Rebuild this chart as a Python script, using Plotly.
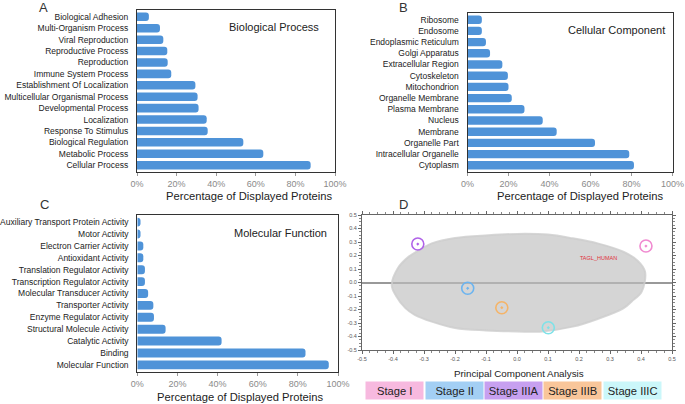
import plotly.graph_objects as go

# ---------------- data ----------------
bp_cats = ["Biological Adhesion", "Multi-Organism Process", "Viral Reproduction",
           "Reproductive Process", "Reproduction", "Immune System Process",
           "Establishment Of Localization", "Multicellular Organismal Process",
           "Developmental Process", "Localization", "Response To Stimulus",
           "Biological Regulation", "Metabolic Process", "Cellular Process"]
bp_vals = [6.0, 11.6, 13.3, 15.3, 15.5, 17.3, 29.5, 30.6, 31.1, 35.2, 35.7, 53.7, 63.8, 87.7]

cc_cats = ["Ribosome", "Endosome", "Endoplasmic Reticulum", "Golgi Apparatus",
           "Extracellular Region", "Cytoskeleton", "Mitochondrion", "Organelle Membrane",
           "Plasma Membrane", "Nucleus", "Membrane", "Organelle Part",
           "Intracellular Organelle", "Cytoplasm"]
cc_vals = [7.0, 7.0, 9.0, 11.0, 17.0, 19.7, 20.0, 21.6, 27.8, 36.7, 43.5, 62.2, 78.9, 81.2]

mf_cats = ["Auxiliary Transport Protein Activity", "Motor Activity", "Electron Carrier Activity",
           "Antioxidant Activity", "Translation Regulator Activity",
           "Transcription Regulator Activity", "Molecular Transducer Activity",
           "Transporter Activity", "Enzyme Regulator Activity", "Structural Molecule Activity",
           "Catalytic Activity", "Binding", "Molecular Function"]
mf_vals = [1.6, 1.6, 3.0, 3.0, 3.8, 3.8, 5.4, 8.0, 8.3, 14.1, 42.0, 83.8, 95.4]

pct_ticks = [0, 20, 40, 60, 80, 100]
pct_labels = ["0%", "20%", "40%", "60%", "80%", "100%"]

# PCA cloud outline
cloud_x = [-0.404, -0.384, -0.35, -0.30, -0.275, -0.20, -0.093, 0.0, 0.10, 0.18, 0.26,
           0.343, 0.39, 0.413, 0.402, 0.37, 0.343, 0.26, 0.18, 0.074, 0.026, -0.10,
           -0.20, -0.275, -0.33, -0.36, -0.39, -0.404]
cloud_y = [-0.02, 0.107, 0.19, 0.26, 0.29, 0.33, 0.35, 0.36, 0.355, 0.327, 0.29,
           0.228, 0.16, 0.08, -0.068, -0.14, -0.191, -0.27, -0.327, -0.364, -0.364, -0.355,
           -0.337, -0.29, -0.24, -0.19, -0.10, -0.02]

stage_names = ["Stage I", "Stage II", "Stage IIIA", "Stage IIIB", "Stage IIIC"]
stage_box_colors = ["#F7B9DF", "#A3CFF4", "#C7A0F0", "#F9C69A", "#CBF7FA"]
stage_pt_colors = ["#F08AD0", "#6BB4F0", "#B062E8", "#F5B468", "#7EE2E8"]
stage_pc1 = [0.416, -0.159, -0.32, -0.049, 0.101]
stage_pc2 = [0.27, -0.043, 0.285, -0.187, -0.335]

label_x = [0.263]
label_y = [0.174]
label_txt = ["TAGL_HUMAN"]

pca_ticks = [-0.5, -0.4, -0.3, -0.2, -0.1, 0.0, 0.1, 0.2, 0.3, 0.4, 0.5]

# ---------------- figure ----------------
W, H = 685, 404
FONT = "Liberation Sans, Arial, sans-serif"
BAR_COLOR = "#4F93D8"

def px(x):
    return x / W

def py(y):
    return 1 - y / H

fig = go.Figure()

panels = [
    (bp_cats, bp_vals, "x", "y"),
    (cc_cats, cc_vals, "x2", "y2"),
    (mf_cats, mf_vals, "x3", "y3"),
]
for cats, vals, xa, ya in panels:
    fig.add_trace(go.Bar(x=vals, y=cats, orientation="h", xaxis=xa, yaxis=ya,
                         marker=dict(color=BAR_COLOR, cornerradius=3, line=dict(width=0)),
                         showlegend=False, hoverinfo="skip"))

# PCA cloud
fig.add_trace(go.Scatter(x=cloud_x, y=cloud_y, xaxis="x4", yaxis="y4", mode="lines",
                         fill="toself", fillcolor="rgba(190,190,190,0.65)",
                         line=dict(color="rgba(205,205,205,0.8)", width=2, shape="spline"),
                         showlegend=False, hoverinfo="skip"))
fig.add_trace(go.Scatter(x=stage_pc1, y=stage_pc2, xaxis="x4", yaxis="y4", mode="markers",
                         marker=dict(symbol="circle-open-dot", size=12, color=stage_pt_colors,
                                     line=dict(width=1.6, color=stage_pt_colors)),
                         showlegend=False, hoverinfo="skip"))
fig.add_trace(go.Scatter(x=label_x, y=label_y, xaxis="x4", yaxis="y4", mode="text",
                         text=label_txt, textfont=dict(size=5.5, color="#E0303A", family=FONT),
                         showlegend=False, hoverinfo="skip"))

def bar_xaxis(dom, anchor):
    return dict(domain=dom, anchor=anchor, range=[0, 100], tickvals=pct_ticks,
                ticktext=pct_labels, showgrid=False, zeroline=False, showline=True,
                linecolor="#333", linewidth=1, mirror=True, ticks="outside", ticklen=3,
                tickcolor="#999", tickfont=dict(size=9, color="#8a8a8a", family=FONT),
                fixedrange=True)

def bar_yaxis(dom, anchor, n):
    return dict(domain=dom, anchor=anchor, type="category", range=[n - 1 + 0.6, -0.6],
                showgrid=False, zeroline=False, showline=True, linecolor="#333",
                linewidth=1, mirror=True, ticks="", ticklabelstandoff=6,
                tickfont=dict(size=8.5, color="#222", family=FONT), fixedrange=True)

fig.update_layout(
    width=W, height=H, margin=dict(l=0, r=0, t=0, b=0, autoexpand=False),
    paper_bgcolor="white", plot_bgcolor="white",
    bargap=0.25, font=dict(family=FONT),
    xaxis=bar_xaxis([px(137), px(335)], "y"),
    yaxis=bar_yaxis([py(172), py(10)], "x", len(bp_cats)),
    xaxis2=bar_xaxis([px(467.5), px(672.5)], "y2"),
    yaxis2=bar_yaxis([py(172), py(13)], "x2", len(cc_cats)),
    xaxis3=bar_xaxis([px(137.3), px(338)], "y3"),
    yaxis3=bar_yaxis([py(372), py(215)], "x3", len(mf_cats)),
    xaxis4=dict(domain=[px(362), px(672)], anchor="y4", range=[-0.5, 0.5],
                tickvals=pca_ticks, ticktext=[f"{v:.1f}" for v in pca_ticks],
                showgrid=False, zeroline=False, showline=True, linecolor="#666",
                linewidth=1, mirror="ticks", ticks="outside", ticklen=3, tickcolor="#666",
                tickfont=dict(size=5.5, color="#555", family=FONT),
                minor=dict(dtick=0.025, ticks="outside", ticklen=2, tickcolor="#888"),
                fixedrange=True),
    yaxis4=dict(domain=[py(350), py(215)], anchor="x4", range=[-0.5, 0.5],
                tickvals=pca_ticks, ticktext=[f"{v:.1f}" for v in pca_ticks],
                showgrid=False, zeroline=True, zerolinecolor="#999", zerolinewidth=1.6,
                showline=True, linecolor="#666", linewidth=1, mirror="ticks",
                ticks="outside", ticklen=3, tickcolor="#666",
                tickfont=dict(size=5.5, color="#555", family=FONT),
                minor=dict(dtick=0.025, ticks="outside", ticklen=2, tickcolor="#888"),
                fixedrange=True),
)

anns = []
def ann(text, x, y, size, color="#222", **kw):
    anns.append(dict(text=text, x=px(x), y=py(y), xref="paper", yref="paper",
                     showarrow=False, xanchor="center", yanchor="middle",
                     font=dict(size=size, color=color, family=FONT), **kw))

# panel letters
ann("A", 43.5, 7, 13, "#333")
ann("B", 403.5, 7, 13, "#333")
ann("C", 44.5, 204, 13, "#333")
ann("D", 403, 204, 13, "#333")
# panel titles
ann("Biological Process", 274, 27, 11)
ann("Cellular Component", 616, 30, 11)
ann("Molecular Function", 280, 233, 11)
# axis titles
ann("Percentage of Displayed Proteins", 249, 195.5, 11.2)
ann("Percentage of Displayed Proteins", 579.5, 195.5, 11.2)
ann("Percentage of Displayed Proteins", 240, 397, 11.2)
ann("Principal Component Analysis", 518.5, 373, 9.8)

# stage legend boxes
box_left = 365
box_w = 59.4
for i, (name, col) in enumerate(zip(stage_names, stage_box_colors)):
    cx = box_left + box_w * (i + 0.5)
    anns.append(dict(text=name, x=px(cx), y=py(390.5), xref="paper", yref="paper",
                     showarrow=False, xanchor="center", yanchor="middle",
                     width=box_w - 2, height=17, bgcolor=col, borderpad=0,
                     font=dict(size=11.2, color="#222", family=FONT)))

fig.update_layout(annotations=anns)
fig.write_html("out.html", config={"responsive": False, "displayModeBar": False},
               post_script="document.body.style.margin='0';document.body.style.overflow='hidden';")
